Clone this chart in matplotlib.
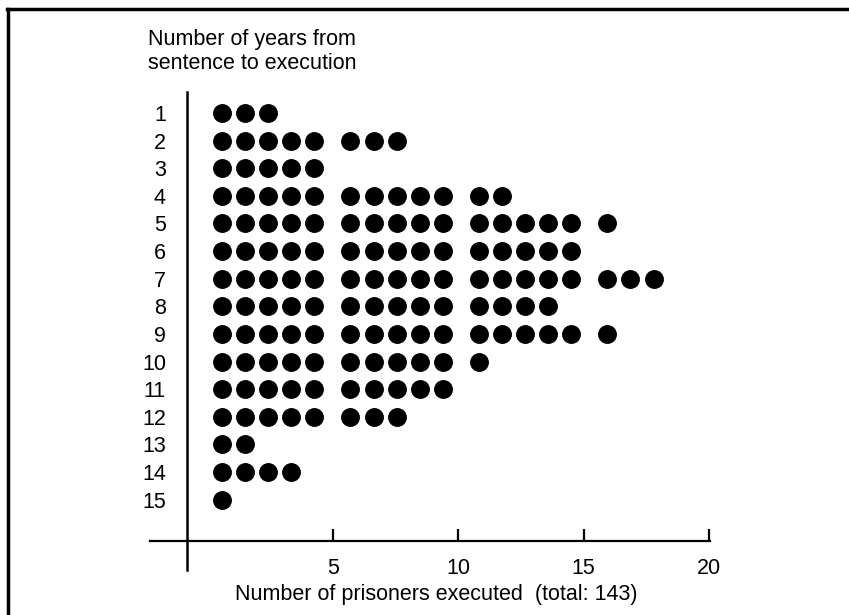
"""
Dot chart: years from sentence to execution vs number of prisoners executed.
Each dot = one prisoner, grouped in blocks of five.
"""
import numpy as np
import matplotlib
matplotlib.use("Agg")
import matplotlib.pyplot as plt
from matplotlib.lines import Line2D

plt.rcParams["font.family"] = ["Liberation Sans", "DejaVu Sans"]

# ─── data ─────────────────────────────────────────────────────────────────────
years = list(range(1, 16))
executed = [3, 8, 5, 12, 16, 15, 18, 14, 16, 11, 10, 8, 2, 4, 1]
x_ticks = [5, 10, 15, 20]

# ─── layout of the dots (blocks of 5) ─────────────────────────────────────────
DOT_START = 0.59
DOT_STEP = 0.92
GROUP_GAP = 0.52
FS = 15.5

fig = plt.figure(figsize=(8.49, 6.15), dpi=100)
ax = fig.add_axes([150 / 849, 1 - 541 / 615, 560 / 849, (541 - 85.4) / 615])

for year, n in zip(years, executed):
    idx = np.arange(n)
    xs = DOT_START + idx * DOT_STEP + (idx // 5) * GROUP_GAP
    ax.plot(xs, [year] * n, "o", color="black", markersize=13.6, markeredgewidth=0)

ax.set_xlim(-2.28, 20.04)
ax.set_ylim(16.5, 0)

for side in ("top", "right", "left"):
    ax.spines[side].set_visible(False)
ax.spines["bottom"].set_linewidth(1.6)

ax.set_xticks(x_ticks)
ax.set_xticklabels([str(t) for t in x_ticks], fontsize=FS)
ax.tick_params(axis="x", direction="in", length=9, width=1.6, pad=12)

ax.set_yticks(years)
ax.set_yticklabels([str(y) for y in years], fontsize=FS)
ax.tick_params(axis="y", length=0, pad=-11.5)

# vertical axis line, runs a bit past the x axis
ax.add_line(Line2D([-0.8, -0.8], [0.25, 17.55], color="black", lw=1.8, clip_on=False))

ax.set_xlabel(f"Number of prisoners executed  (total: {sum(executed)})", fontsize=FS)
ax.xaxis.set_label_coords((436 - 150) / 560, -0.095)

fig.text(148 / 849, 1 - 45 / 615, "Number of years from", fontsize=FS, va="baseline")
fig.text(148 / 849, 1 - 69 / 615, "sentence to execution", fontsize=FS, va="baseline")

# frame (top and left edges)
fig.add_artist(Line2D([7 / 849, 1], [1 - 9 / 615, 1 - 9 / 615], color="black", lw=2.5,
                      transform=fig.transFigure))
fig.add_artist(Line2D([8 / 849, 8 / 849], [0, 1 - 9 / 615], color="black", lw=2.5,
                      transform=fig.transFigure))

fig.savefig("out.png", dpi=100)
plt.close(fig)
